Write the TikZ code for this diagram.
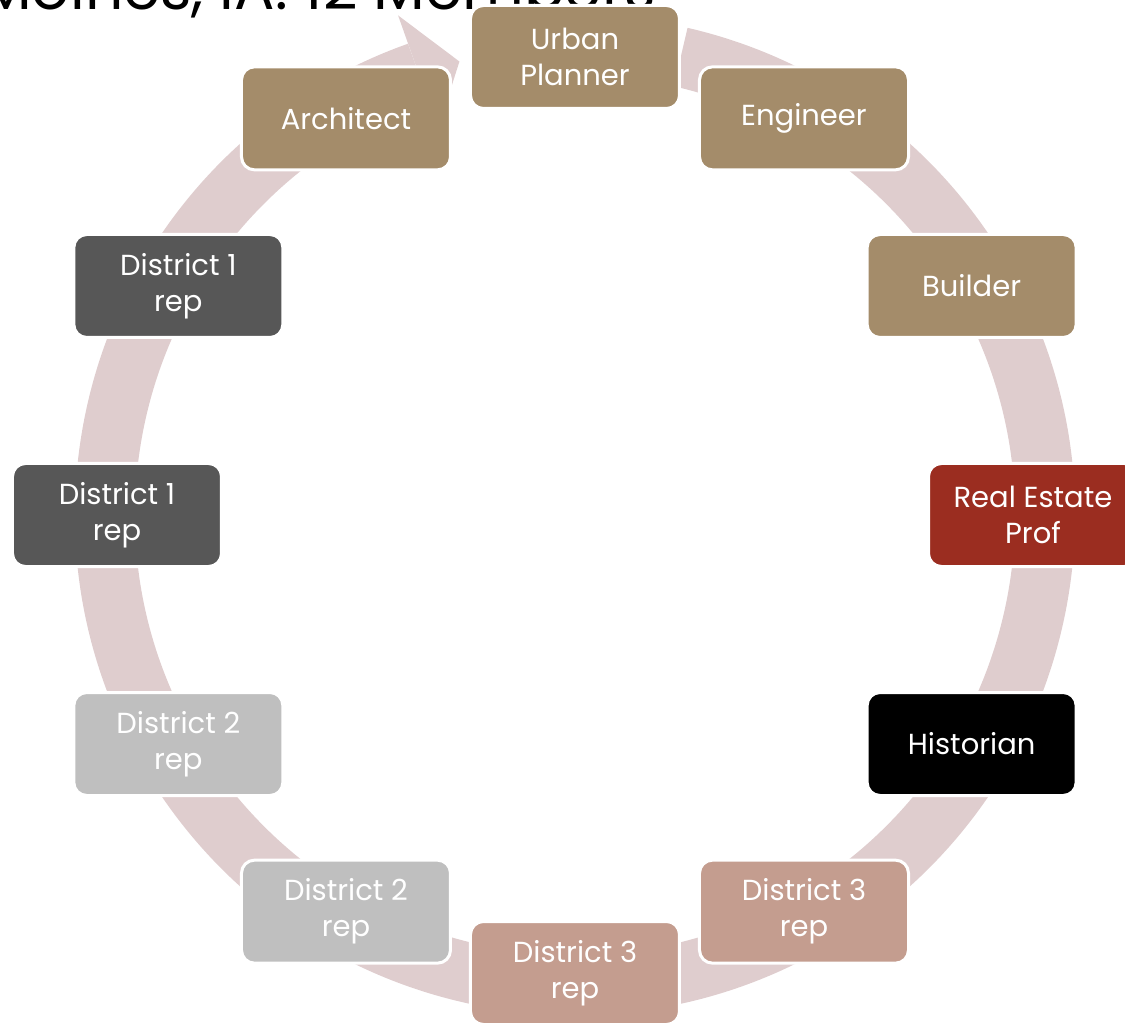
\documentclass[tikz,border=0pt]{standalone}
\usepackage{fontspec}
\setmainfont{Poppins}
\definecolor{ringpink}{HTML}{DFCDCE}
\definecolor{boxbrown}{HTML}{A48C6A}
\definecolor{boxdark}{HTML}{575757}
\definecolor{boxred}{HTML}{9B2D20}
\definecolor{boxlight}{HTML}{BFBFBF}
\definecolor{boxrose}{HTML}{C49D8F}
\begin{document}
\begin{tikzpicture}[x=1pt, y=1pt,
    member/.style={draw=white, line width=3pt, rounded corners=13pt, text=white,
      minimum width=209pt, minimum height=103pt, align=center,
      font=\fontsize{29}{36}\selectfont},
    ring/.style={ringpink, line width=60pt}]
    \useasboundingbox (-575, -513) rectangle (550, 515);

    % title, cut off by the top edge
    \node[anchor=base east, font=\fontsize{60}{60}\selectfont, inner sep=0pt] (title) at (81, 505) {Des Moines, IA: 12 Members};

    % the cycle
    \draw[ring] (77:470) arc[start angle=77, end angle=-250.5, radius=470];
    \fill[ringpink] (109.5:530) -- (104.3:468) -- (109.5:410) -- cycle;

    \node[member, fill=boxbrown] (planner) at (90:458) {Urban\\Planner};
    \node[member, fill=boxbrown] (engineer) at (60:458) {Engineer};
    \node[member, fill=boxbrown] (builder) at (30:458) {Builder};
    \node[member, fill=boxred] (realtor) at (0:458) {Real Estate\\Prof};
    \node[member, fill=black] (historian) at (-30:458) {Historian};
    \node[member, fill=boxrose] (dthreeA) at (-60:458) {District 3\\rep};
    \node[member, fill=boxrose] (dthreeB) at (-90:458) {District 3\\rep};
    \node[member, fill=boxlight] (dtwoA) at (-120:458) {District 2\\rep};
    \node[member, fill=boxlight] (dtwoB) at (-150:458) {District 2\\rep};
    \node[member, fill=boxdark] (doneA) at (180:458) {District 1\\rep};
    \node[member, fill=boxdark] (doneB) at (150:458) {District 1\\rep};
    \node[member, fill=boxbrown] (architect) at (120:458) {Architect};
\end{tikzpicture}
\end{document}
